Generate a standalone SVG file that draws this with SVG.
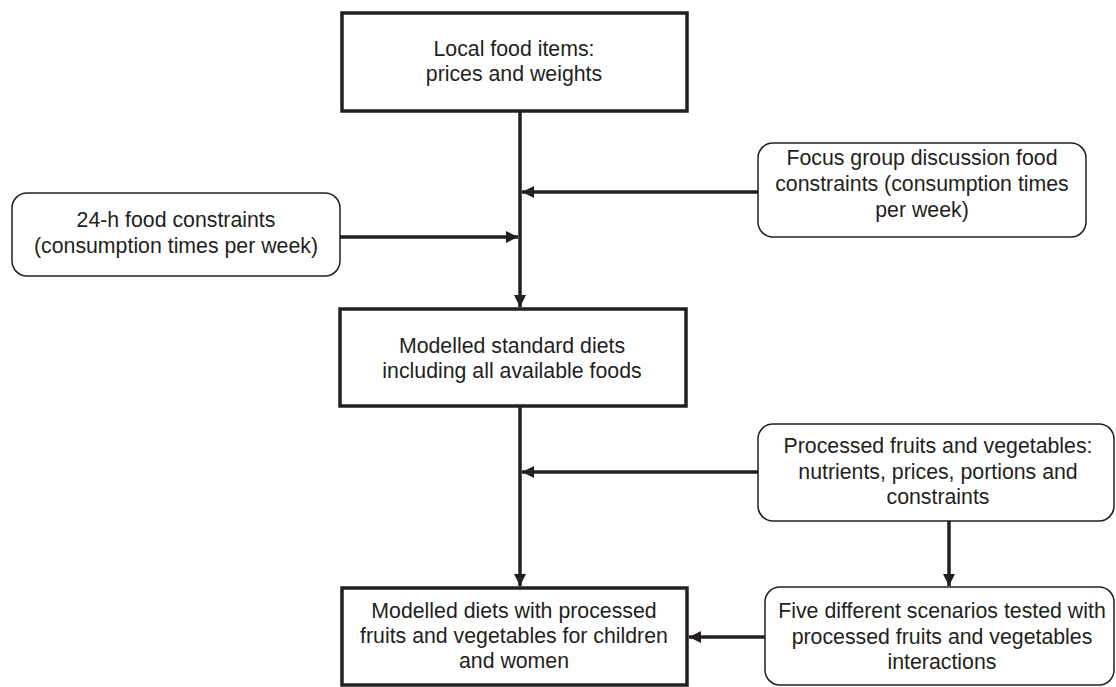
<svg xmlns="http://www.w3.org/2000/svg" width="1116" height="687" viewBox="0 0 1116 687">
<defs>
<marker id="ah" viewBox="0 0 10 10" refX="10" refY="5" markerWidth="3.5" markerHeight="3.5" orient="auto" markerUnits="strokeWidth">
<path d="M0,0 L10,5 L0,10 Z" fill="#231f20"/>
</marker>
<style>
.sq{fill:#fff;stroke:#231f20;stroke-width:3.5}
.rd{fill:#fff;stroke:#231f20;stroke-width:1.5}
.t{font-family:"Liberation Sans",Arial,sans-serif;font-size:21.3px;fill:#231f20;text-anchor:middle}
.c{stroke:#231f20;stroke-width:3.5;fill:none}
</style>
</defs>
<rect width="1116" height="687" fill="#fff"/>
<g id="connectors">
<line class="c" x1="520" y1="111" x2="520" y2="307" marker-end="url(#ah)"/>
<line class="c" x1="758" y1="192" x2="522" y2="192" marker-end="url(#ah)"/>
<line class="c" x1="340" y1="237" x2="518" y2="237" marker-end="url(#ah)"/>
<line class="c" x1="520" y1="406" x2="520" y2="586" marker-end="url(#ah)"/>
<line class="c" x1="758" y1="472" x2="522" y2="472" marker-end="url(#ah)"/>
<line class="c" x1="949" y1="521" x2="949" y2="586" marker-end="url(#ah)"/>
<line class="c" x1="765" y1="637" x2="689" y2="637" marker-end="url(#ah)"/>
</g>
<g id="local">
<rect class="sq" x="342" y="13" width="345" height="98"/>
<text class="t" x="514" y="56">Local food items:</text>
<text class="t" x="514" y="81">prices and weights</text>
</g>
<g id="focus">
<rect class="rd" x="758" y="143" width="328" height="94" rx="15"/>
<text class="t" x="922" y="165">Focus group discussion food</text>
<text class="t" x="922" y="191">constraints (consumption times</text>
<text class="t" x="922" y="217">per week)</text>
</g>
<g id="h24">
<rect class="rd" x="12" y="193" width="328" height="83" rx="15"/>
<text class="t" x="176" y="227">24-h food constraints</text>
<text class="t" x="176" y="253">(consumption times per week)</text>
</g>
<g id="standard">
<rect class="sq" x="340" y="309" width="346" height="97"/>
<text class="t" x="512" y="353">Modelled standard diets</text>
<text class="t" x="512" y="378">including all available foods</text>
</g>
<g id="processed">
<rect class="rd" x="758" y="424" width="356" height="97" rx="15"/>
<text class="t" x="938" y="453">Processed fruits and vegetables:</text>
<text class="t" x="938" y="479">nutrients, prices, portions and</text>
<text class="t" x="938" y="504">constraints</text>
</g>
<g id="modelled">
<rect class="sq" x="342" y="588" width="345" height="97"/>
<text class="t" x="514" y="618">Modelled diets with processed</text>
<text class="t" x="514" y="643">fruits and vegetables for children</text>
<text class="t" x="514" y="668">and women</text>
</g>
<g id="scenarios">
<rect class="rd" x="765" y="587" width="349" height="98" rx="15"/>
<text class="t" x="942" y="618">Five different scenarios tested with</text>
<text class="t" x="942" y="644">processed fruits and vegetables</text>
<text class="t" x="942" y="669">interactions</text>
</g>
</svg>
